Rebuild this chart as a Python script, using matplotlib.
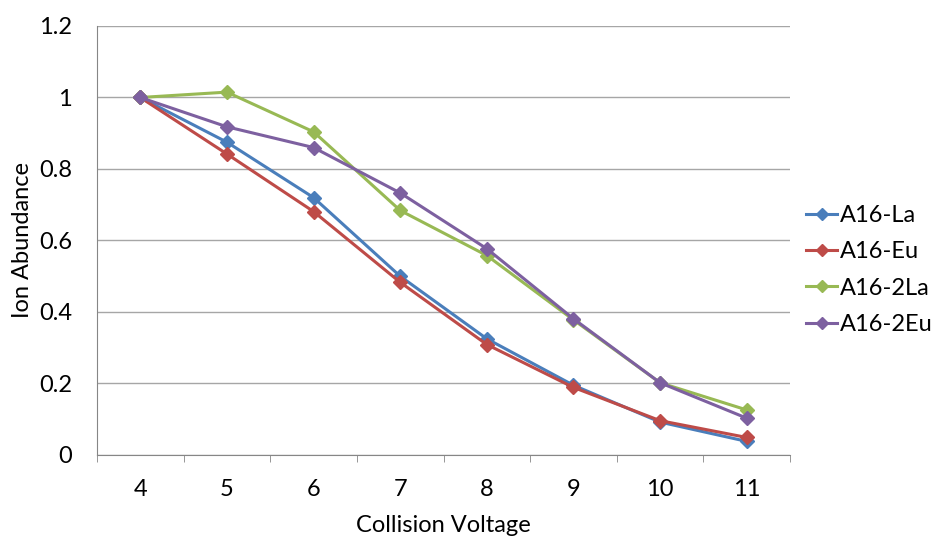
import matplotlib.pyplot as plt
from matplotlib.ticker import MultipleLocator

plt.rcParams['font.family'] = ['Lato', 'DejaVu Sans']

voltage = [4, 5, 6, 7, 8, 9, 10, 11]
a16_la = [1.0, 0.875, 0.720, 0.500, 0.325, 0.195, 0.092, 0.038]
a16_eu = [1.0, 0.842, 0.681, 0.483, 0.309, 0.189, 0.096, 0.049]
a16_2la = [1.0, 1.015, 0.904, 0.684, 0.558, 0.378, 0.202, 0.126]
a16_2eu = [1.0, 0.918, 0.860, 0.733, 0.577, 0.381, 0.202, 0.103]
y_ticks = [0, 0.2, 0.4, 0.6, 0.8, 1.0, 1.2]
y_labels = ["0", "0.2", "0.4", "0.6", "0.8", "1", "1.2"]

series = [
    ("A16-La", a16_la, "#4A7EBB"),
    ("A16-Eu", a16_eu, "#BE4B48"),
    ("A16-2La", a16_2la, "#98B954"),
    ("A16-2Eu", a16_2eu, "#7D60A0"),
]

fig = plt.figure(figsize=(9.35, 5.38), dpi=100)
ax = fig.add_axes([0.1037, 0.1543, 0.7413, 0.7974])

for name, vals, col in series:
    ax.plot(voltage, vals, color=col, lw=2.2, marker="D", ms=7.5,
            mec=col, mfc=col, label=name)

ax.set_xlim(3.5, 11.5)
ax.set_ylim(0, 1.2)
ax.set_xticks(voltage)
ax.xaxis.set_minor_locator(MultipleLocator(1, offset=0.5))
ax.set_yticks(y_ticks)
ax.set_yticklabels(y_labels)
ax.grid(axis="y", color="#A6A6A6", lw=1)
ax.set_axisbelow(True)

for s in ["top", "right"]:
    ax.spines[s].set_visible(False)
for s in ["left", "bottom"]:
    ax.spines[s].set_color("#868686")
ax.tick_params(axis="x", which="major", length=0, labelsize=17, pad=17)
ax.tick_params(axis="x", which="minor", length=5, color="#868686")
ax.tick_params(axis="y", length=0, labelsize=17, pad=18)

ax.set_xlabel("Collision Voltage", fontsize=17, labelpad=11)
ax.set_ylabel("Ion Abundance", fontsize=17, labelpad=4)

ax.legend(loc="center left", bbox_to_anchor=(1.01, 0.431), frameon=False,
          fontsize=17, handlelength=1.3, handletextpad=0.1,
          labelspacing=0.65, markerscale=0.8, borderaxespad=0)

fig.savefig("out.png", dpi=100)
